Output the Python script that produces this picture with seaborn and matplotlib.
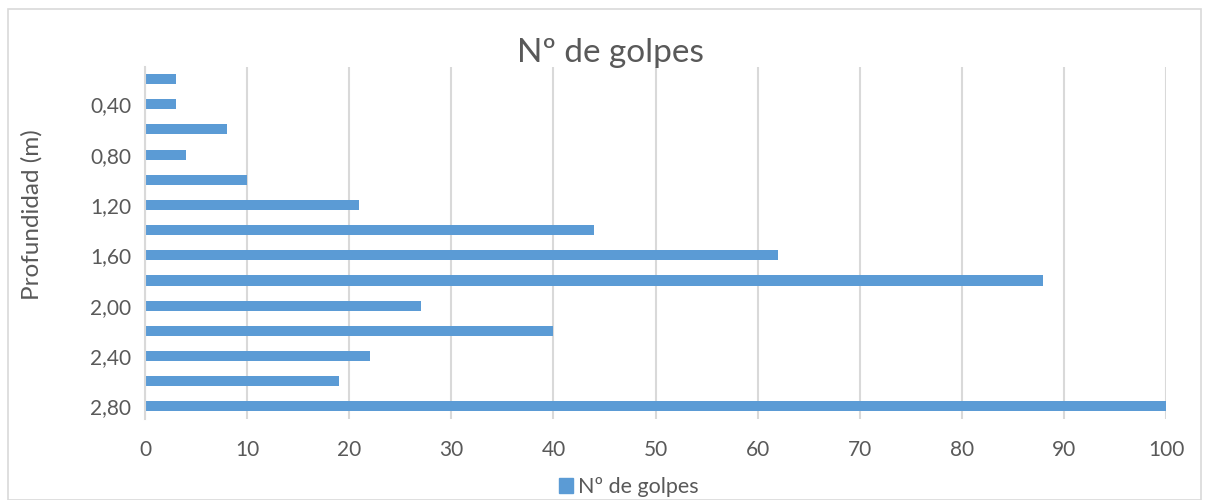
import matplotlib
matplotlib.use("Agg")
import matplotlib.pyplot as plt
import matplotlib.patches as mpatches
import seaborn as sns
import pandas as pd

# Penetration test: blow count per depth
depths = ["0,20", "0,40", "0,60", "0,80", "1,00", "1,20", "1,40",
          "1,60", "1,80", "2,00", "2,20", "2,40", "2,60", "2,80"]
golpes = [3, 3, 8, 4, 10, 21, 44, 62, 88, 27, 40, 22, 19, 100]
x_ticks = [0, 10, 20, 30, 40, 50, 60, 70, 80, 90, 100]

series_name = "Nº de golpes"
bar_color = "#5B9BD5"
text_color = "#595959"
grid_color = "#D9D9D9"

df = pd.DataFrame({"Profundidad": depths, series_name: golpes})

sns.set_theme(style="white")
plt.rcParams["font.family"] = ["Lato", "DejaVu Sans"]

fig = plt.figure(figsize=(12.09, 5.0), dpi=100)
ax = fig.add_axes([0.12, 0.162, 0.8444, 0.705])

sns.barplot(data=df, y="Profundidad", x=series_name, order=depths,
            orient="h", color=bar_color, width=0.4, saturation=1,
            edgecolor="none", ax=ax)

ax.set_xlim(0, 100)
ax.set_ylim(len(depths) - 0.5, -0.5)
ax.set_xticks(x_ticks)
ax.set_xticklabels([str(v) for v in x_ticks], fontsize=15, color=text_color)
ax.set_yticks(range(len(depths)))
ax.set_yticklabels([d if i % 2 == 1 else "" for i, d in enumerate(depths)],
                   fontsize=15, color=text_color)
ax.tick_params(axis="both", length=0)
ax.tick_params(axis="y", pad=10)
ax.tick_params(axis="x", pad=15)

ax.grid(axis="x", color=grid_color, linewidth=1.5)
ax.set_axisbelow(True)
for side in ["top", "right", "bottom"]:
    ax.spines[side].set_visible(False)
ax.spines["left"].set_color(grid_color)
ax.spines["left"].set_linewidth(1.5)

ax.set_xlabel("")
ax.set_ylabel("Profundidad (m)", fontsize=17.5, color=text_color)
ax.yaxis.set_label_coords(-0.1, 0.58)

fig.text(0.505, 0.895, series_name, ha="center", va="center",
         fontsize=24, color=text_color)

handle = mpatches.Patch(color=bar_color, label=series_name)
fig.legend(handles=[handle], loc="center", bbox_to_anchor=(0.52, 0.026),
           frameon=False, fontsize=15.5, labelcolor=text_color,
           handlelength=0.65, handleheight=0.65, handletextpad=0.25)

# Outer chart frame
fig.patches.append(mpatches.Rectangle((0.0066, 0.0), 0.987, 0.982,
                                      transform=fig.transFigure,
                                      fill=False, edgecolor=grid_color,
                                      linewidth=1.2))

fig.savefig("out.png", dpi=100, facecolor="white")
